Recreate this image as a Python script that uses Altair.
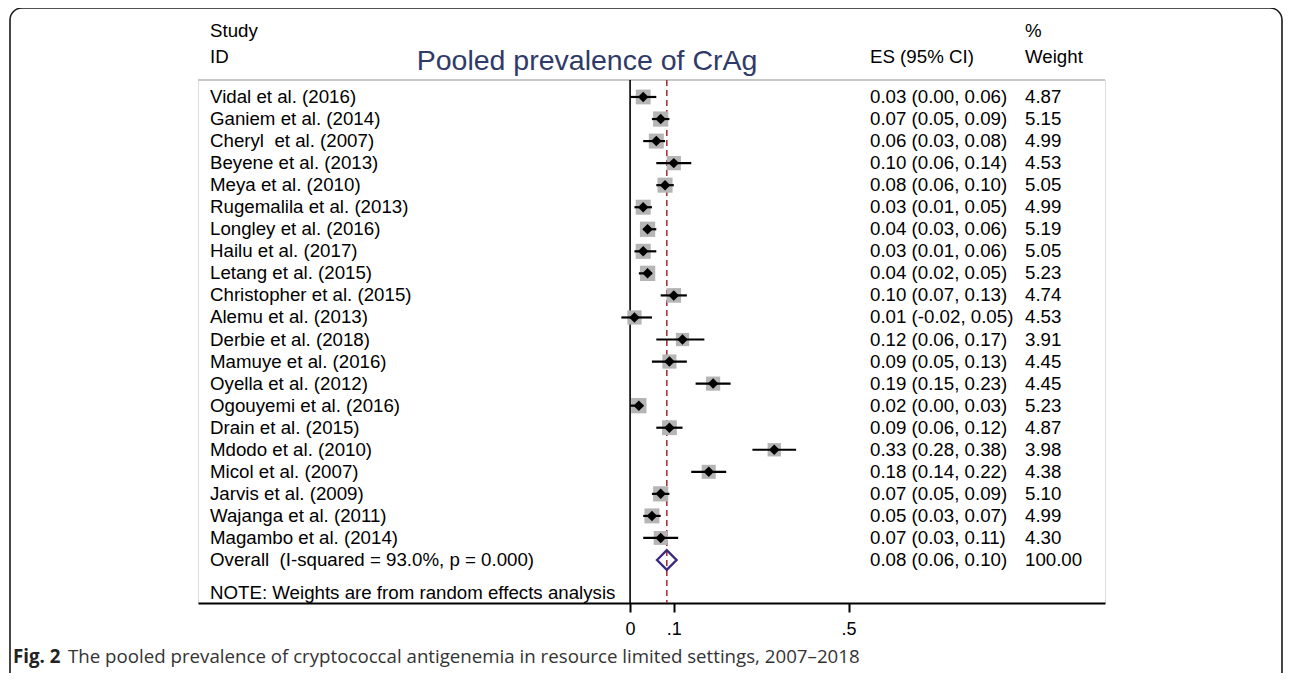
import altair as alt
import pandas as pd

# ---------------- data ----------------
studies = [
    "Vidal et al. (2016)", "Ganiem et al. (2014)", "Cheryl\u00a0 et al. (2007)",
    "Beyene et al. (2013)", "Meya et al. (2010)", "Rugemalila et al. (2013)",
    "Longley et al. (2016)", "Hailu et al. (2017)", "Letang et al. (2015)",
    "Christopher et al. (2015)", "Alemu et al. (2013)", "Derbie et al. (2018)",
    "Mamuye et al. (2016)", "Oyella et al. (2012)", "Ogouyemi et al. (2016)",
    "Drain et al. (2015)", "Mdodo et al. (2010)", "Micol et al. (2007)",
    "Jarvis et al. (2009)", "Wajanga et al. (2011)", "Magambo et al. (2014)",
]
es = [0.03, 0.07, 0.06, 0.10, 0.08, 0.03, 0.04, 0.03, 0.04, 0.10, 0.01,
      0.12, 0.09, 0.19, 0.02, 0.09, 0.33, 0.18, 0.07, 0.05, 0.07]
lo = [0.00, 0.05, 0.03, 0.06, 0.06, 0.01, 0.03, 0.01, 0.02, 0.07, -0.02,
      0.06, 0.05, 0.15, 0.00, 0.06, 0.28, 0.14, 0.05, 0.03, 0.03]
hi = [0.06, 0.09, 0.08, 0.14, 0.10, 0.05, 0.06, 0.06, 0.05, 0.13, 0.05,
      0.17, 0.13, 0.23, 0.03, 0.12, 0.38, 0.22, 0.09, 0.07, 0.11]
weights = [4.87, 5.15, 4.99, 4.53, 5.05, 4.99, 5.19, 5.05, 5.23, 4.74, 4.53,
           3.91, 4.45, 4.45, 5.23, 4.87, 3.98, 4.38, 5.10, 4.99, 4.30]

overall_label = "Overall\u00a0 (I-squared = 93.0%, p = 0.000)"
overall_es = 0.084
overall_lo = 0.06
overall_hi = 0.10
overall_text = "0.08 (0.06, 0.10)"
overall_weight = "100.00"
note_text = "NOTE: Weights are from random effects analysis"

x_ticks = [0, 0.1, 0.5]
title_text = "Pooled prevalence of CrAg"
caption_bold = "Fig. 2"
caption_text = ("The pooled prevalence of cryptococcal antigenemia in resource "
                "limited settings, 2007\u20132018")

# ---------------- tables ----------------
rows = pd.DataFrame({
    "row": list(range(len(studies))),
    "study": studies,
    "es": es, "lo": lo, "hi": hi, "w": weights,
    "es_txt": [f"{e:.2f} ({l:.2f}, {h:.2f})" for e, l, h in zip(es, lo, hi)],
    "w_txt": [f"{w:.2f}" for w in weights],
})
n = len(studies)
ov = pd.DataFrame({"row": [n], "study": [overall_label], "es": [overall_es],
                   "lo": [overall_lo], "hi": [overall_hi],
                   "es_txt": [overall_text], "w_txt": [overall_weight]})
labels = pd.concat([rows[["row", "study", "es_txt", "w_txt"]],
                    ov[["row", "study", "es_txt", "w_txt"]]], ignore_index=True)

W, H = 907, 523
FONT = "Liberation Sans"
FS = 18.7

xs = alt.Scale(domain=[-0.989, 1.087], nice=False, zero=False)
ys = alt.Scale(domain=[-0.77, 22.95], reverse=True, nice=False, zero=False)

X = lambda f: alt.X(f, type="quantitative", scale=xs,
                    axis=alt.Axis(values=x_ticks, title=None, grid=False,
                                  labelExpr="datum.value == 0 ? '0' : replace(format(datum.value, '.1f'), '0.', '.')",
                                  domainColor="black", domainWidth=2,
                                  tickColor="black", tickWidth=2, tickSize=9,
                                  labelFont=FONT, labelFontSize=18, labelColor="black",
                                  labelPadding=8))
Y = lambda f: alt.Y(f, type="quantitative", scale=ys, axis=None)

base = alt.Chart(rows)

# border frame
frame = alt.Chart(pd.DataFrame({"k": [0]})).mark_rect(
    fill=None, stroke="#1a1a1a", strokeWidth=1.6, cornerRadius=12, clip=False
).encode(x=alt.value(-188), x2=alt.value(1084), y=alt.value(-72), y2=alt.value(610))

top_line = alt.Chart(pd.DataFrame({"k": [0]})).mark_rule(
    color="#c8c8c8", strokeWidth=2).encode(x=alt.value(0), x2=alt.value(W), y=alt.value(0))

zero_line = alt.Chart(pd.DataFrame({"v": [0]})).mark_rule(
    color="black", strokeWidth=1.6).encode(
    x=X("v"), y=alt.value(0), y2=alt.value(H))

pooled_line = alt.Chart(pd.DataFrame({"v": [overall_es]})).mark_rule(
    color="#a3333d", strokeWidth=1.6, strokeDash=[6, 4]).encode(
    x=X("v"), y=alt.value(0), y2=alt.value(H))

boxes = base.mark_square(filled=True, color="#b5b5b5", opacity=1).encode(
    x=X("es"), y=Y("row"),
    size=alt.Size("w:Q", scale=alt.Scale(domain=[0, 5], range=[0, 225]), legend=None))

ci = base.mark_rule(color="black", strokeWidth=2.2).encode(
    x=X("lo"), x2="hi", y=Y("row"))

pts = base.mark_point(shape="diamond", filled=True, color="black", size=110, opacity=1).encode(
    x=X("es"), y=Y("row"))

ov_diamond = alt.Chart(ov).mark_point(
    shape="diamond", filled=False, color="#3b2a80", strokeWidth=2.4, size=380, opacity=1
).encode(x=X("es"), y=Y("row"))

lab = alt.Chart(labels)
study_txt = lab.mark_text(align="left", baseline="middle", font=FONT, fontSize=FS, color="black").encode(
    x=alt.value(12), y=Y("row"), text="study:N")
es_col = lab.mark_text(align="left", baseline="middle", font=FONT, fontSize=FS, color="black").encode(
    x=alt.value(672), y=Y("row"), text="es_txt:N")
w_col = lab.mark_text(align="left", baseline="middle", font=FONT, fontSize=FS, color="black").encode(
    x=alt.value(827), y=Y("row"), text="w_txt:N")

def txt(s, x, y, size=FS, color="black", font=FONT, weight="normal", align="left"):
    return alt.Chart(pd.DataFrame({"t": [s]})).mark_text(
        align=align, baseline="middle", font=font, fontSize=size, color=color,
        fontWeight=weight).encode(x=alt.value(x), y=alt.value(y), text="t:N")

note = txt(note_text, 12, 513)
h_study = txt("Study", 12, -49)
h_id = txt("ID", 12, -23)
h_es = txt("ES (95% CI)", 672, -23)
h_pct = txt("%", 827, -49)
h_wt = txt("Weight", 827, -23)
title = txt(title_text, 389, -19, size=28.5, color="#2f3a68", align="center")
cap1 = txt(caption_bold, -185, 577, size=18.7, font="Open Sans", weight="bold", color="#222222")
cap2 = txt(caption_text, -130, 577, size=18.7, font="Open Sans", color="#333333")

chart = alt.layer(
    frame, top_line, zero_line, pooled_line, boxes, ci, pts, ov_diamond,
    study_txt, es_col, w_col, note, h_study, h_id, h_es, h_pct, h_wt, title, cap1, cap2
).properties(
    width=W, height=H,
    autosize=alt.AutoSizeParams(type="none"),
    padding={"left": 190, "top": 72, "right": 178, "bottom": 70},
).configure_view(stroke=None).configure(background="white")

chart.save("out.html", embed_options={"renderer": "svg", "actions": False})
